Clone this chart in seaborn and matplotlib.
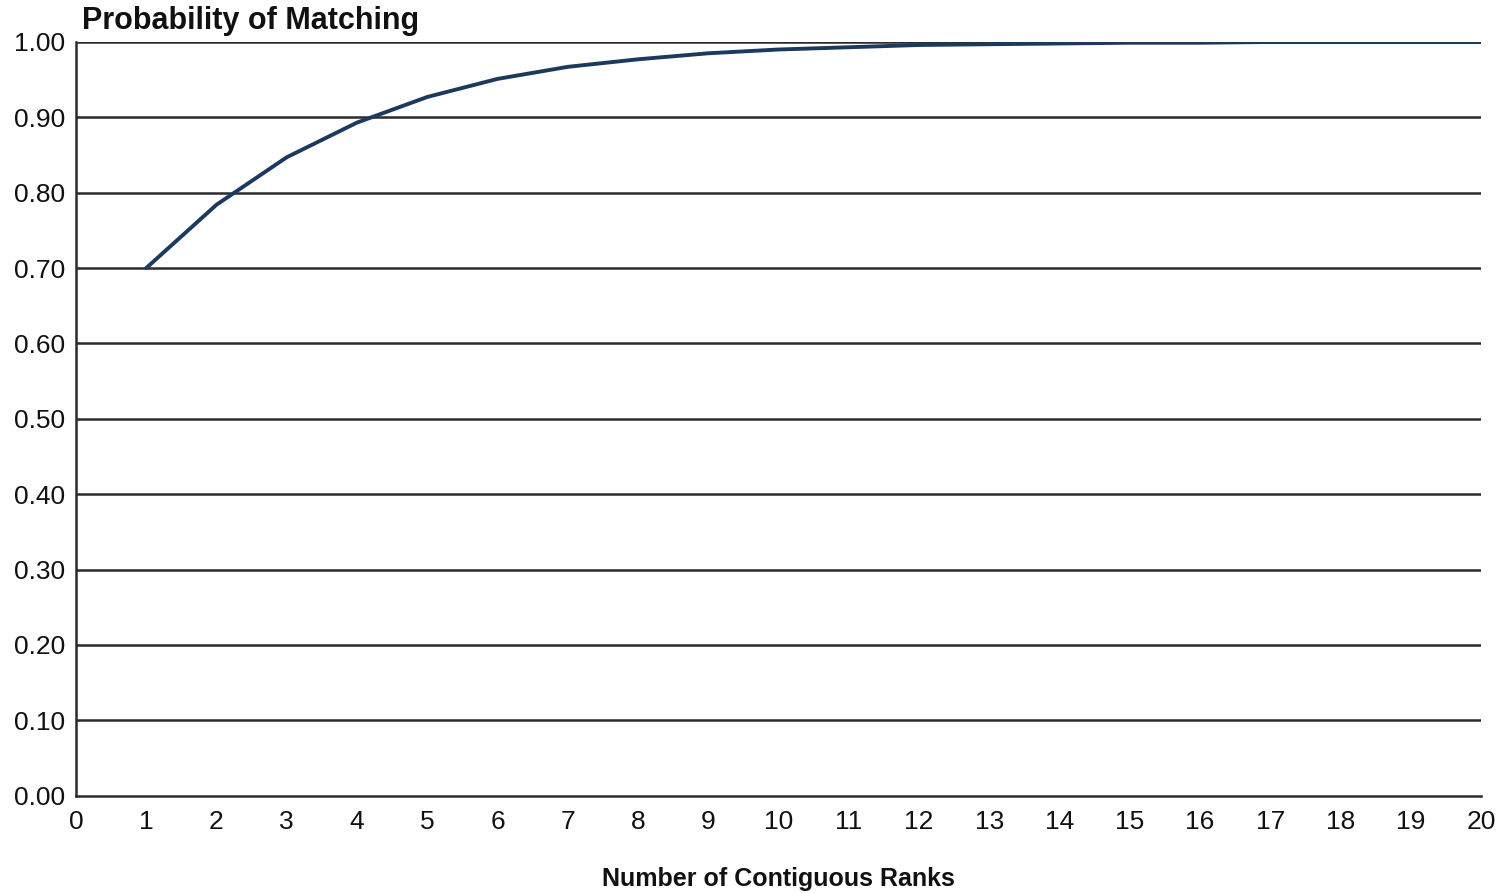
import pandas as pd
import numpy as np
import seaborn as sns
from matplotlib import pyplot as plt

ranks = list(range(1, 21))
prob = [0.700, 0.784, 0.847, 0.893, 0.927, 0.951, 0.967, 0.977, 0.985, 0.990,
        0.993, 0.996, 0.997, 0.998, 0.999, 0.999, 1.000, 1.000, 1.000, 1.000]
x_ticks = list(range(0, 21))
y_ticks = [0.0, 0.1, 0.2, 0.3, 0.4, 0.5, 0.6, 0.7, 0.8, 0.9, 1.0]

df = pd.DataFrame({'Ranks': ranks, 'Prob': prob})

sns.set_style('white')
plt.rcParams['font.family'] = ['Liberation Sans', 'DejaVu Sans']
plt.rcParams['text.color'] = '#111111'
plt.rcParams['axes.labelcolor'] = '#111111'

fig = plt.figure(figsize=(15.1, 8.93), dpi=100)
ax = fig.add_axes([0.0503, 0.109, 0.9305, 0.844])

# horizontal grid lines
for v in y_ticks[1:]:
    ax.axhline(v, color='#2b2b2b', lw=1.8, zorder=1)

sns.lineplot(data=df, x='Ranks', y='Prob', color='#1c3a5e', lw=2.8, ax=ax, zorder=3)

ax.set_xlim(0, 20)
ax.set_ylim(0, 1.0)
ax.set_xticks(x_ticks)
ax.set_yticks(y_ticks)
ax.set_yticklabels(['{:.2f}'.format(v) for v in y_ticks])
ax.tick_params(axis='both', length=0, labelsize=19, colors='#111111')
ax.tick_params(axis='x', pad=10)
ax.tick_params(axis='y', pad=8)

for s in ['top', 'right']:
    ax.spines[s].set_visible(False)
for s in ['left', 'bottom']:
    ax.spines[s].set_color('#2b2b2b')
    ax.spines[s].set_linewidth(1.8)

ax.set_xlabel('Number of Contiguous Ranks', fontsize=18, fontweight='bold', labelpad=24)
ax.set_ylabel('')
fig.text(0.0543, 0.977, 'Probability of Matching', fontsize=22, fontweight='bold',
         va='center', ha='left')

fig.savefig('out.png', dpi=100)
